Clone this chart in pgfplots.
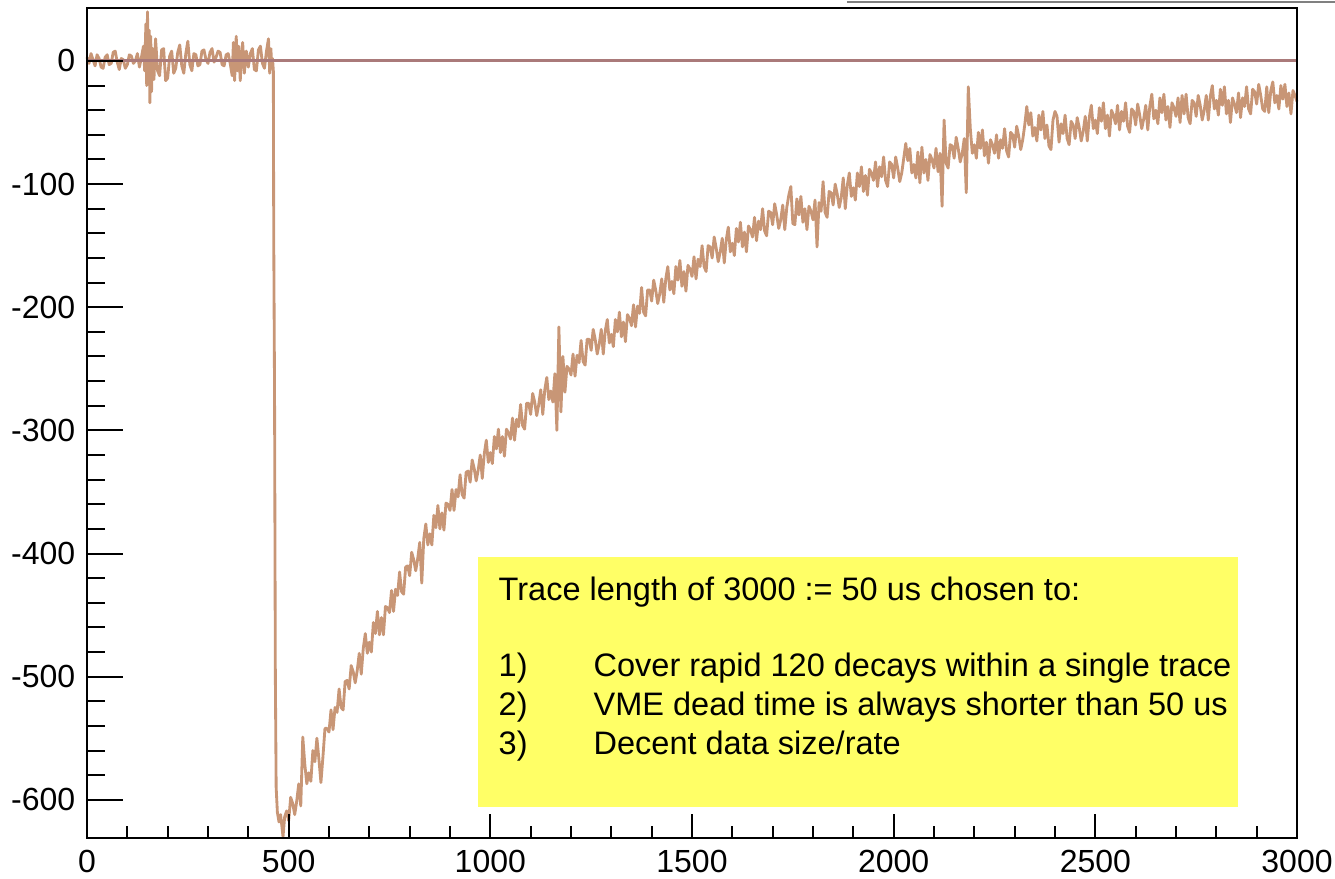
\documentclass[border=0pt]{standalone}
\usepackage{fontspec}
\setmainfont{Liberation Sans}
\usepackage{pgfplots}
\pgfplotsset{compat=1.18}
\usepackage{pgfplotstable}
\definecolor{tracecol}{RGB}{200,150,118}
\definecolor{zerocol}{RGB}{170,122,122}
\definecolor{boxcol}{RGB}{255,255,102}
\definecolor{topgray}{RGB}{128,128,128}

\pgfplotstableread{
x y
0 3
5 -2
10 6
15 1
20 -4
25 5
30 2
35 -5
40 -6
45 3
50 5
55 -3
60 -2
65 7
70 8
75 -1
80 -7
85 2
90 1
95 -6
100 -3
105 5
110 4
115 -2
120 0
125 6
130 -5
135 3
140 12
143 -8
146 30
148 -20
150 40
152 -10
154 25
156 -34
158 20
160 -25
163 10
166 -15
170 18
175 -8
180 -12
185 9
190 10
195 -16
200 -14
205 4
210 8
215 -10
220 -6
225 7
230 13
235 -4
240 -10
245 6
250 16
255 -3
260 -8
265 6
270 5
275 -4
280 -3
285 8
290 9
295 1
300 -2
305 7
310 10
315 -1
320 3
325 8
330 7
335 -3
340 -4
345 5
350 6
355 -2
360 -12
363 15
366 -16
370 20
373 -8
376 12
380 -16
383 5
386 15
390 -10
395 8
400 -5
405 6
410 10
415 -7
420 -8
425 9
430 12
435 -2
440 -6
445 8
450 18
453 -10
456 10
458 -6
460 2
462 -8
463 -143
465 -270
467 -500
469 -590
472 -610
476 -618
480 -612
486 -630
490 -614
495 -609
500 -617
505 -598
510 -603
515 -612
520 -601
525 -587
530 -605
535 -549
540 -571
545 -587
550 -578
555 -585
560 -560
565 -569
570 -550
575 -567
580 -586
585 -565
590 -542
595 -542
600 -545
605 -527
610 -543
615 -525
620 -529
625 -510
630 -525
635 -527
640 -504
645 -503
650 -510
655 -491
660 -496
665 -505
670 -495
675 -481
680 -498
685 -477
690 -465
695 -481
700 -472
705 -480
710 -456
715 -465
720 -447
725 -466
730 -452
735 -466
740 -443
745 -444
750 -448
755 -430
760 -447
765 -429
770 -434
775 -415
780 -431
785 -433
790 -411
795 -410
800 -418
805 -399
810 -405
815 -414
820 -404
825 -391
830 -424
835 -388
840 -376
845 -393
850 -384
855 -393
860 -369
865 -379
870 -361
875 -380
880 -367
885 -381
890 -359
895 -360
900 -365
905 -348
910 -365
915 -348
920 -354
925 -336
930 -352
935 -355
940 -334
945 -333
950 -342
955 -324
960 -331
965 -341
970 -332
975 -320
980 -339
985 -319
990 -308
995 -326
1000 -318
1005 -327
1010 -305
1015 -315
1020 -299
1025 -318
1030 -305
1035 -321
1040 -299
1045 -302
1050 -307
1055 -290
1060 -308
1065 -291
1070 -297
1075 -279
1080 -296
1085 -299
1090 -278
1095 -278
1100 -287
1105 -270
1110 -277
1115 -288
1120 -279
1125 -267
1130 -287
1135 -267
1140 -257
1145 -275
1150 -268
1155 -277
1160 -254
1165 -300
1170 -216
1175 -285
1180 -240
1185 -269
1190 -248
1195 -250
1200 -255
1205 -238
1210 -256
1215 -239
1220 -245
1225 -227
1230 -244
1235 -247
1240 -226
1245 -226
1250 -235
1255 -218
1260 -226
1265 -238
1270 -230
1275 -218
1280 -238
1285 -219
1290 -210
1295 -229
1300 -222
1305 -232
1310 -210
1315 -220
1320 -204
1325 -224
1330 -212
1335 -228
1340 -206
1345 -209
1350 -215
1355 -198
1360 -216
1365 -199
1370 -205
1375 -184
1380 -204
1385 -207
1390 -186
1395 -186
1400 -195
1405 -178
1410 -186
1415 -197
1420 -189
1425 -177
1430 -196
1435 -177
1440 -167
1445 -186
1450 -179
1455 -189
1460 -167
1465 -178
1470 -162
1475 -183
1480 -171
1485 -187
1490 -166
1495 -169
1500 -175
1505 -159
1510 -177
1515 -161
1520 -167
1525 -150
1530 -167
1535 -171
1540 -150
1545 -151
1550 -160
1555 -143
1560 -152
1565 -163
1570 -155
1575 -144
1580 -164
1585 -145
1590 -135
1595 -155
1600 -148
1605 -158
1610 -136
1615 -147
1620 -131
1625 -151
1630 -139
1635 -155
1640 -134
1645 -137
1650 -143
1655 -127
1660 -146
1665 -130
1670 -137
1675 -120
1680 -138
1685 -142
1690 -122
1695 -123
1700 -133
1705 -116
1710 -125
1715 -136
1720 -129
1725 -117
1730 -137
1735 -119
1740 -109
1745 -102
1750 -132
1755 -133
1760 -112
1765 -125
1770 -110
1775 -131
1780 -120
1785 -137
1790 -118
1795 -122
1800 -129
1805 -113
1810 -151
1815 -115
1820 -122
1825 -98
1830 -123
1835 -127
1840 -106
1845 -107
1850 -117
1855 -100
1860 -108
1865 -119
1870 -111
1875 -95
1880 -120
1885 -101
1890 -91
1895 -110
1900 -103
1905 -113
1910 -91
1915 -102
1920 -86
1925 -106
1930 -93
1935 -109
1940 -88
1945 -91
1950 -97
1955 -82
1960 -102
1965 -86
1970 -94
1975 -78
1980 -97
1985 -102
1990 -82
1995 -84
2000 -95
2005 -78
2010 -87
2015 -98
2020 -91
2025 -79
2030 -67
2035 -81
2040 -71
2045 -91
2050 -84
2055 -95
2060 -74
2065 -99
2070 -70
2075 -91
2080 -80
2085 -97
2090 -76
2095 -80
2100 -87
2105 -71
2110 -90
2115 -75
2120 -118
2125 -48
2130 -83
2135 -87
2140 -68
2145 -69
2150 -79
2155 -62
2160 -71
2165 -82
2170 -75
2175 -63
2180 -107
2185 -21
2190 -55
2195 -75
2200 -68
2205 -79
2210 -58
2215 -71
2220 -56
2225 -77
2230 -66
2235 -83
2240 -64
2245 -68
2250 -75
2255 -60
2260 -79
2265 -64
2270 -71
2275 -55
2280 -73
2285 -78
2290 -58
2295 -60
2300 -70
2305 -53
2310 -61
2315 -72
2320 -64
2325 -52
2330 -37
2335 -52
2340 -42
2345 -61
2350 -54
2355 -65
2360 -44
2365 -56
2370 -41
2375 -63
2380 -52
2385 -69
2390 -72
2395 -48
2400 -41
2405 -45
2410 -66
2415 -51
2420 -59
2425 -44
2430 -63
2435 -68
2440 -49
2445 -52
2450 -63
2455 -46
2460 -54
2465 -65
2470 -57
2475 -45
2480 -65
2485 -46
2490 -36
2495 -55
2500 -48
2505 -59
2510 -38
2515 -49
2520 -34
2525 -55
2530 -44
2535 -61
2540 -40
2545 -44
2550 -51
2555 -36
2560 -56
2565 -41
2570 -49
2575 -34
2580 -53
2585 -58
2590 -39
2595 -41
2600 -52
2605 -35
2610 -44
2615 -55
2620 -47
2625 -36
2630 -56
2635 -37
2640 -27
2645 -47
2650 -40
2655 -51
2660 -30
2665 -42
2670 -27
2675 -48
2680 -37
2685 -54
2690 -34
2695 -38
2700 -45
2705 -30
2710 -50
2715 -28
2720 -43
2725 -27
2730 -46
2735 -51
2740 -32
2745 -34
2750 -45
2755 -28
2760 -36
2765 -48
2770 -40
2775 -28
2780 -48
2785 -29
2790 -20
2795 -39
2800 -32
2805 -44
2810 -23
2815 -36
2820 -21
2825 -43
2830 -32
2835 -50
2840 -30
2845 -35
2850 -42
2855 -26
2860 -46
2865 -30
2870 -37
2875 -21
2880 -39
2885 -43
2890 -23
2895 -25
2900 -35
2905 -19
2910 -28
2915 -39
2920 -41
2925 -21
2930 -42
2935 -24
2940 -17
2945 -34
2950 -28
2955 -39
2960 -20
2965 -31
2970 -19
2975 -37
2980 -26
2985 -43
2990 -24
2995 -28
3000 -33
}\tracedata

\begin{document}
\begin{tikzpicture}
\pgfplotsset{common/.style={
  scale only axis, width=363pt, height=249pt,
  xmin=0, xmax=3000, ymin=-631, ymax=43,
  axis line style={line width=0.7pt},
  tick style={line width=0.6pt, black},
  tick align=inside,
  /pgf/number format/assume math mode=true,
  /pgf/number format/1000 sep={},
  tick label style={font=\fontsize{9.6}{11}\selectfont},
}}
\begin{axis}[common,
  xtick=\empty,
  ytick={-600,-500,-400,-300,-200,-100,0},
  minor y tick num=4,
  ytick pos=left,
  major tick length=10.8pt, minor tick length=5.4pt,
  clip=false, axis on top]
\addplot[tracecol, line width=0.85pt, line join=round] table {\tracedata};
\addplot[zerocol, line width=0.9pt] coordinates {(0,0) (3000,0)};
\fill[boxcol] (rel axis cs:0.3231,0.0373) rectangle (rel axis cs:0.9512,0.3386);
\begin{scope}[every node/.style={anchor=base west, inner sep=0pt, font=\fontsize{9.75}{11}\selectfont}]
\node at (rel axis cs:0.3397,0.2859) {Trace length of 3000 := 50 us chosen to:};
\node at (rel axis cs:0.3397,0.1940) {1)};
\node at (rel axis cs:0.4182,0.1940) {Cover rapid 120 decays within a single trace};
\node at (rel axis cs:0.3397,0.1476) {2)};
\node at (rel axis cs:0.4182,0.1476) {VME dead time is always shorter than 50 us};
\node at (rel axis cs:0.3397,0.1012) {3)};
\node at (rel axis cs:0.4182,0.1012) {Decent data size/rate};
\end{scope}
\draw[topgray, line width=0.5pt] (rel axis cs:0.628,1.00723) -- (rel axis cs:1.0314,1.00723);
\coordinate (bbl) at (rel axis cs:-0.0719,-0.0494);
\coordinate (btr) at (rel axis cs:1.0314,1.00964);
\end{axis}
\begin{axis}[common,
  ytick=\empty,
  xtick={0,500,1000,1500,2000,2500,3000},
  minor x tick num=4,
  xtick pos=bottom,
  major tick length=7.2pt, minor tick length=3.6pt]
\end{axis}
\pgfresetboundingbox
\path[use as bounding box] (bbl) rectangle (btr);
\end{tikzpicture}
\end{document}
